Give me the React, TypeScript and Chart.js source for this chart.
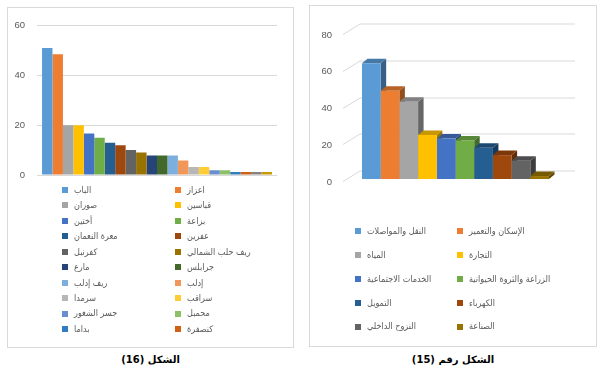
import React, { useEffect, useRef } from "react";
import { Chart, registerables } from "chart.js";

Chart.register(...registerables);

// ---------- Figure 16 (left) ----------
const locationNames = [
  "الباب", "اعزاز", "صوران", "قباسين", "أختين", "بزاعة", "معرة النعمان", "عفرين",
  "كفرنبل", "ريف حلب الشمالي", "مارع", "جرابلس", "ريف إدلب", "إدلب", "سرمدا", "سراقب",
  "جسر الشغور", "محمبل", "بداما", "كنصفرة", "سلسلة21", "سلسلة22",
];
const locationValues = [51, 48.5, 20, 20, 16.7, 15, 13, 12, 10, 9, 7.8, 7.8, 7.8, 5.8, 3.2, 3.2, 1.9, 1.9, 1.2, 1.2, 1.2, 1.2];
const locationColors = [
  "#5B9BD5", "#ED7D31", "#A5A5A5", "#FFC000", "#4472C4", "#70AD47", "#255E91", "#9E480E",
  "#636363", "#997300", "#264478", "#43682B", "#7CAFDD", "#F1975A", "#B7B7B7", "#FFCD33",
  "#698ED0", "#8CC168", "#327DC2", "#D26012", "#848484", "#CC9A00",
];
const locationTicks = [0, 20, 40, 60];
const locationLegendCount = 20;
const locationCaption = "الشكل (16)";

// ---------- Figure 15 (right) ----------
const sectorNames = [
  "النقل والمواصلات", "الإسكان والتعمير", "المياه", "التجارة", "الخدمات الاجتماعية",
  "الزراعة والثروة الحيوانية", "التمويل", "الكهرباء", "النزوح الداخلي", "الصناعة",
];
const sectorValues = [63, 48, 42, 24, 22, 21, 17, 13, 10, 1.6];
const sectorColors = [
  "#5B9BD5", "#ED7D31", "#A5A5A5", "#FFC000", "#4472C4",
  "#70AD47", "#255E91", "#9E480E", "#636363", "#997300",
];
const sectorTicks = [0, 20, 40, 60, 80];
const sectorCaption = "الشكل رقم (15)";

const FONT = "'Liberation Sans', 'DejaVu Sans', sans-serif";
const LEGEND_FONT = "'DejaVu Sans Condensed', 'DejaVu Sans', sans-serif";
const TEXT = "#595959";
const GRID = "#d9d9d9";

function shade(hex: string, f: number) {
  const n = parseInt(hex.slice(1), 16);
  const r = Math.round(((n >> 16) & 255) * f);
  const g = Math.round(((n >> 8) & 255) * f);
  const b = Math.round((n & 255) * f);
  return `rgb(${r},${g},${b})`;
}

function gridLegend(o: { x0: number; x1: number; y0: number; rowH: number; count: number; box: number; gap: number; size: number }) {
  return {
    id: "gridLegend",
    afterDraw(chart: any) {
      const ctx = chart.ctx;
      ctx.save();
      ctx.font = `${o.size}px ${LEGEND_FONT}`;
      ctx.textBaseline = "middle";
      ctx.textAlign = "left";
      chart.data.datasets.slice(0, o.count).forEach((ds: any, i: number) => {
        const x = i % 2 ? o.x1 : o.x0;
        const y = o.y0 + Math.floor(i / 2) * o.rowH;
        ctx.fillStyle = ds.backgroundColor;
        ctx.fillRect(x, Math.round(y - o.box / 2), o.box, o.box);
        ctx.fillStyle = TEXT;
        ctx.fillText(ds.label, x + o.box + o.gap, y + 0.5);
      });
      ctx.restore();
    },
  };
}

const wallGrid = {
  id: "wallGrid",
  beforeDatasetsDraw(chart: any) {
    const { ctx, chartArea, scales } = chart;
    const y = scales.y;
    ctx.save();
    ctx.strokeStyle = GRID;
    ctx.lineWidth = 1;
    y.ticks.forEach((t: any) => {
      const py = Math.round(y.getPixelForValue(t.value)) + 0.5;
      ctx.beginPath();
      ctx.moveTo(chartArea.left - 5, py + 2);
      ctx.lineTo(chartArea.left + 12, py - 8.5);
      ctx.lineTo(chartArea.right + 12, py - 8.5);
      ctx.stroke();
    });
    ctx.restore();
  },
};

const bar3d = {
  id: "bar3d",
  beforeDatasetsDraw(chart: any) {
    const ctx = chart.ctx;
    const dx = 5.5, dy = 4.5;
    ctx.save();
    chart.data.datasets.forEach((ds: any, i: number) => {
      const meta = chart.getDatasetMeta(i);
      meta.data.forEach((el: any) => {
        const { x, y, base, width } = el.getProps(["x", "y", "base", "width"], true);
        const l = x - width / 2, r = x + width / 2;
        ctx.fillStyle = shade(ds.backgroundColor, 0.62);
        ctx.beginPath();
        ctx.moveTo(r, y);
        ctx.lineTo(r + dx, y - dy);
        ctx.lineTo(r + dx, base - dy);
        ctx.lineTo(r, base);
        ctx.closePath();
        ctx.fill();
        ctx.fillStyle = shade(ds.backgroundColor, 0.78);
        ctx.beginPath();
        ctx.moveTo(l, y);
        ctx.lineTo(l + dx, y - dy);
        ctx.lineTo(r + dx, y - dy);
        ctx.lineTo(r, y);
        ctx.closePath();
        ctx.fill();
      });
    });
    ctx.restore();
  },
};

function useChart(ref: React.RefObject<HTMLCanvasElement>, make: (c: HTMLCanvasElement) => Chart) {
  useEffect(() => {
    if (!ref.current) return;
    const ch = make(ref.current);
    return () => ch.destroy();
  }, []);
}

export default function App() {
  const leftRef = useRef<HTMLCanvasElement>(null);
  const rightRef = useRef<HTMLCanvasElement>(null);

  useChart(leftRef as any, (c) =>
    new Chart(c, {
      type: "bar",
      data: {
        labels: [""],
        datasets: locationNames.map((name, i) => ({
          label: name,
          data: [locationValues[i]],
          backgroundColor: locationColors[i],
          borderWidth: 0,
          categoryPercentage: 0.958,
          barPercentage: 1,
        })),
      },
      options: {
        responsive: false,
        animation: false,
        layout: { padding: { left: 7, right: 16, top: 12, bottom: 172 } },
        plugins: { legend: { display: false }, tooltip: { enabled: false } },
        scales: {
          x: { display: false },
          y: {
            min: 0,
            max: 60,
            afterBuildTicks: (s: any) => { s.ticks = locationTicks.map((v) => ({ value: v })); },
            afterFit: (s: any) => { s.width = 22; },
            ticks: { padding: 12, color: TEXT, font: { size: 9.5, family: FONT } },
            grid: { color: GRID, drawTicks: false },
            border: { display: false },
          },
        },
      },
      plugins: [gridLegend({ x0: 54, x1: 167, y0: 182, rowH: 15.45, count: locationLegendCount, box: 6, gap: 6, size: 9 })],
    } as any)
  );

  useChart(rightRef as any, (c) =>
    new Chart(c, {
      type: "bar",
      data: {
        labels: [""],
        datasets: sectorNames.map((name, i) => ({
          label: name,
          data: [sectorValues[i]],
          backgroundColor: sectorColors[i],
          borderWidth: 0,
          categoryPercentage: 0.87,
          barPercentage: 1,
        })),
      },
      options: {
        responsive: false,
        animation: false,
        layout: { padding: { left: 11, right: 33, top: 26, bottom: 167 } },
        plugins: { legend: { display: false }, tooltip: { enabled: false } },
        scales: {
          x: { display: false },
          y: {
            min: 0,
            max: 80,
            afterBuildTicks: (s: any) => { s.ticks = sectorTicks.map((v) => ({ value: v })); },
            afterFit: (s: any) => { s.width = 27; },
            ticks: { padding: 16, labelOffset: 3, color: TEXT, font: { size: 9.5, family: FONT } },
            grid: { display: false, drawTicks: false },
            border: { display: false },
          },
        },
      },
      plugins: [wallGrid, bar3d, gridLegend({ x0: 45, x1: 147, y0: 225, rowH: 23.9, count: sectorNames.length, box: 6, gap: 6, size: 9 })],
    } as any)
  );

  const box: React.CSSProperties = {
    position: "absolute",
    boxSizing: "border-box",
    border: `1px solid ${GRID}`,
    background: "#fff",
  };
  const cap: React.CSSProperties = {
    position: "absolute",
    top: 353,
    height: 14,
    lineHeight: "14px",
    textAlign: "center",
    fontFamily: "'DejaVu Sans', sans-serif",
    fontSize: 10,
    fontWeight: "bold",
    color: "#000",
    direction: "rtl",
  };

  return (
    <div style={{ position: "absolute", left: 0, top: 0, width: 602, height: 373, background: "#fff", overflow: "hidden" }}>
      <div style={{ ...box, left: 7, top: 7, width: 287, height: 341 }}>
        <canvas ref={leftRef} width={285} height={339} style={{ display: "block", width: 285, height: 339 }} />
      </div>
      <div style={{ ...box, left: 309, top: 5, width: 288, height: 342 }}>
        <canvas ref={rightRef} width={286} height={340} style={{ display: "block", width: 286, height: 340 }} />
      </div>
      <div style={{ ...cap, left: 7, width: 287 }}>{locationCaption}</div>
      <div style={{ ...cap, left: 309, width: 288 }}>{sectorCaption}</div>
    </div>
  );
}
